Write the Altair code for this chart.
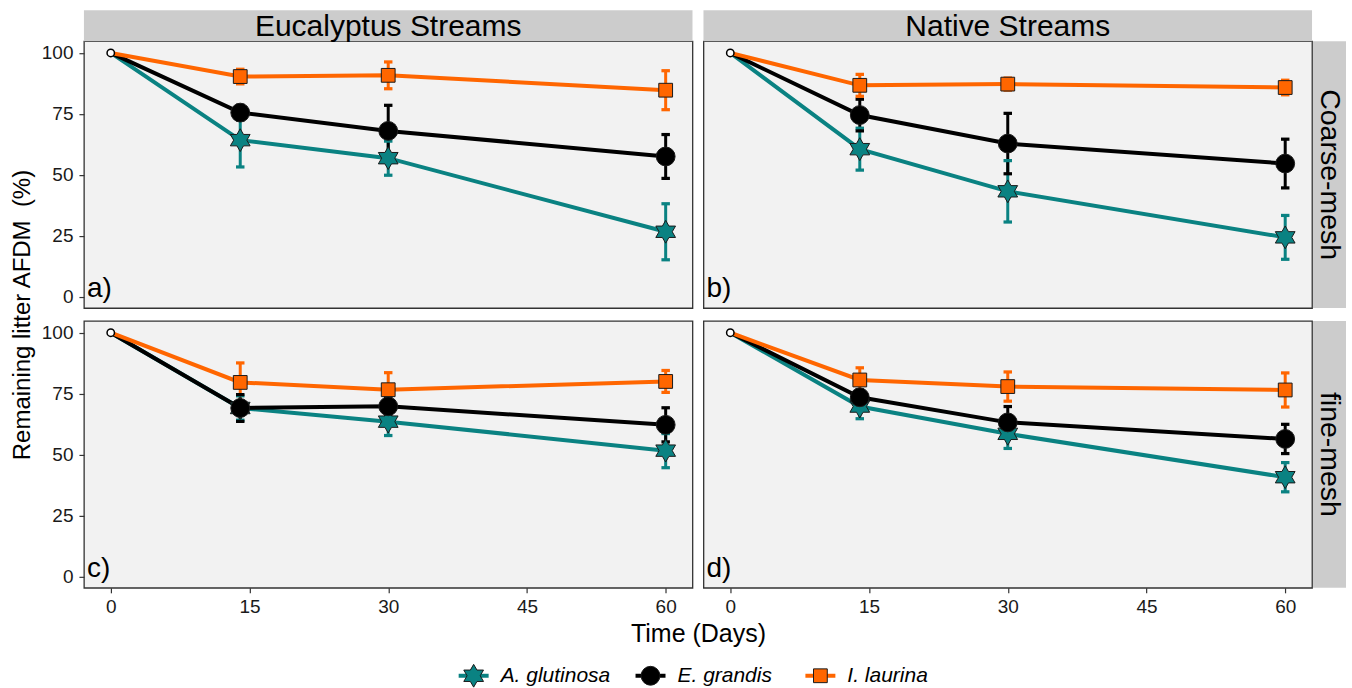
import altair as alt
import pandas as pd

# ---------------- data ----------------
DAYS = [0, 14, 30, 60]
SPECIES = ["A. glutinosa", "E. grandis", "I. laurina"]
COLORS = ["#0A8282", "#000000", "#FF6600"]
STREAMS = ["Eucalyptus Streams", "Native Streams"]
MESHES = ["Coarse-mesh", "fine-mesh"]
LETTERS = ["a)", "b)", "c)", "d)"]
X_TICKS = [0, 15, 30, 45, 60]
Y_TICKS = [0, 25, 50, 75, 100]

# remaining litter AFDM (%) : one list per species (A. glutinosa, E. grandis, I. laurina)
EUC_COARSE_MEAN = [[100, 64.2, 56.8, 26.6], [100, 75.5, 68.0, 57.5], [100, 90.3, 90.8, 84.7]]
EUC_COARSE_ERR = [[0, 11.0, 7.0, 11.5], [0, 3.0, 10.5, 9.0], [0, 3.0, 5.5, 8.0]]
NAT_COARSE_MEAN = [[100, 60.5, 43.2, 24.3], [100, 74.5, 62.8, 54.6], [100, 86.7, 87.2, 85.8]]
NAT_COARSE_ERR = [[0, 8.6, 12.6, 9.0], [0, 6.5, 12.4, 10.0], [0, 4.5, 2.5, 3.0]]
EUC_FINE_MEAN = [[100, 69.1, 63.5, 51.6], [100, 69.1, 69.8, 62.2], [100, 79.6, 76.6, 80.0]]
EUC_FINE_ERR = [[0, 5.0, 5.7, 7.0], [0, 5.5, 4.0, 7.0], [0, 8.0, 7.0, 4.5]]
NAT_FINE_MEAN = [[100, 69.7, 58.5, 40.7], [100, 73.5, 63.2, 56.4], [100, 80.6, 77.9, 76.5]]
NAT_FINE_ERR = [[0, 5.0, 6.0, 6.0], [0, 3.0, 6.5, 6.0], [0, 5.0, 6.0, 7.0]]

PANEL_DATA = [
    (STREAMS[0], MESHES[0], EUC_COARSE_MEAN, EUC_COARSE_ERR),
    (STREAMS[1], MESHES[0], NAT_COARSE_MEAN, NAT_COARSE_ERR),
    (STREAMS[0], MESHES[1], EUC_FINE_MEAN, EUC_FINE_ERR),
    (STREAMS[1], MESHES[1], NAT_FINE_MEAN, NAT_FINE_ERR),
]

# ---------------- layout / style ----------------
W, H = 609, 267
FONT = "Liberation Sans"
STRIP_FILL = "#CCCCCC"
STAR = ("M0,-1L0.2887,-0.5L0.866,-0.5L0.5774,0L0.866,0.5L0.2887,0.5L0,1"
        "L-0.2887,0.5L-0.866,0.5L-0.5774,0L-0.866,-0.5L-0.2887,-0.5Z")
CAP = "M-1,-0.38L1,-0.38L1,0.38L-1,0.38Z"

color_scale = alt.Scale(domain=SPECIES, range=COLORS)
shape_scale = alt.Scale(domain=SPECIES, range=[STAR, "circle", "square"])
size_scale = alt.Scale(domain=SPECIES, range=[520, 190, 190])
x_scale = alt.Scale(domain=[-2.9, 62.9], nice=False, zero=False)
y_scale = alt.Scale(domain=[-4.7, 104.8], nice=False, zero=False)

# legend layout (pixel offsets relative to the lower-left panel)
LEG_SYMBOL_X = [390, 567, 737]
LEG_Y = 355


def build_df(stream, mesh, means, errs):
    rows = []
    for sp, m, e in zip(SPECIES, means, errs):
        for d, mv, ev in zip(DAYS, m, e):
            rows.append(dict(stream=stream, mesh=mesh, species=sp, day=d,
                             mean=mv, lo=mv - ev, hi=mv + ev))
    return pd.DataFrame(rows)


def make_panel(idx):
    stream, mesh, means, errs = PANEL_DATA[idx]
    row, col = divmod(idx, 2)
    df = build_df(stream, mesh, means, errs)
    base = alt.Chart(df)

    if row == 1:
        xaxis = alt.Axis(values=X_TICKS, labelFontSize=19, labelColor="#1a1a1a",
                         tickColor="#333333", tickSize=5, tickWidth=1.2,
                         labelPadding=5, domain=False, grid=False,
                         title="Time (Days)" if col == 0 else None,
                         titleFontSize=25, titleFontWeight="normal",
                         titleColor="black", titleX=W + 5.5, titleY=46,
                         titleBaseline="middle")
    else:
        xaxis = None
    if col == 0:
        yaxis = alt.Axis(values=Y_TICKS, labelFontSize=19, labelColor="#1a1a1a",
                         tickColor="#333333", tickSize=5, tickWidth=1.2,
                         labelPadding=6, domain=False, grid=False,
                         title="Remaining litter AFDM\u00a0 (%)" if row == 0 else None,
                         titleFontSize=24, titleFontWeight="normal",
                         titleColor="black", titleAngle=270, titleX=-61,
                         titleY=H + 6.5, titleBaseline="middle")
    else:
        yaxis = None

    def xe():
        return alt.X("day:Q", scale=x_scale, axis=xaxis)

    def ye(field):
        return alt.Y(field, scale=y_scale, axis=yaxis)

    col_enc = alt.Color("species:N", scale=color_scale, legend=None)

    later = base.transform_filter("datum.day > 0")
    err_rule = later.mark_rule(strokeWidth=3).encode(
        x=xe(), y=ye("lo:Q"), y2="hi:Q", color=col_enc)
    caps = later.transform_fold(["lo", "hi"], as_=["end", "val"]).mark_point(
        shape=CAP, filled=True, size=72, opacity=1).encode(
        x=xe(), y=ye("val:Q"), color=col_enc)
    lines = base.mark_line(strokeWidth=4).encode(
        x=xe(), y=ye("mean:Q"), color=col_enc)
    points = later.mark_point(filled=True, opacity=1, stroke="#1a1a1a",
                              strokeWidth=1).encode(
        x=xe(), y=ye("mean:Q"),
        fill=alt.Fill("species:N", scale=color_scale, legend=None),
        shape=alt.Shape("species:N", scale=shape_scale, legend=None),
        size=alt.Size("species:N", scale=size_scale, legend=None))
    start = base.transform_filter(
        "datum.day == 0 && datum.species == '%s'" % SPECIES[0]).mark_point(
        filled=True, fill="white", stroke="black", strokeWidth=1.5,
        size=55, opacity=1).encode(x=xe(), y=ye("mean:Q"))

    label = alt.Chart(pd.DataFrame({"t": [LETTERS[idx]]})).mark_text(
        font=FONT, fontSize=28, align="left", baseline="alphabetic",
        color="black").encode(x=alt.value(3), y=alt.value(H - 11), text="t:N")

    layers = [err_rule, caps, lines, points, start, label]

    if row == 0:
        strip_df = pd.DataFrame({"t": [stream]})
        layers.append(alt.Chart(strip_df).mark_rect(fill=STRIP_FILL).encode(
            x=alt.value(0), x2=alt.value(W), y=alt.value(-31), y2=alt.value(0)))
        layers.append(alt.Chart(strip_df).mark_text(
            font=FONT, fontSize=30, color="black", align="center",
            baseline="middle").encode(x=alt.value(W / 2), y=alt.value(-14.5),
                                      text="t:N"))
    if col == 1:
        rs_df = pd.DataFrame({"t": [mesh]})
        layers.append(alt.Chart(rs_df).mark_rect(fill=STRIP_FILL).encode(
            x=alt.value(W + 1), x2=alt.value(W + 34), y=alt.value(0),
            y2=alt.value(H)))
        layers.append(alt.Chart(rs_df).mark_text(
            font=FONT, fontSize=28.5, color="black", align="center",
            baseline="middle", angle=90).encode(
            x=alt.value(W + 17.5), y=alt.value(H / 2), text="t:N"))

    if row == 1 and col == 0:
        leg = pd.DataFrame({"species": SPECIES})
        leg["lx"] = LEG_SYMBOL_X
        leg["lx1"] = leg["lx"] - 15
        leg["lx2"] = leg["lx"] + 15
        leg["tx"] = leg["lx"] + 27
        leg["ly"] = LEG_Y
        lb = alt.Chart(leg)
        layers.append(lb.mark_rule(strokeWidth=4).encode(
            x=alt.X("lx1:Q", scale=None, axis=None), x2="lx2:Q",
            y=alt.Y("ly:Q", scale=None, axis=None), color=col_enc))
        layers.append(lb.mark_point(filled=True, opacity=1, stroke="#1a1a1a",
                                    strokeWidth=1).encode(
            x=alt.X("lx:Q", scale=None, axis=None),
            y=alt.Y("ly:Q", scale=None, axis=None),
            fill=alt.Fill("species:N", scale=color_scale, legend=None),
            shape=alt.Shape("species:N", scale=shape_scale, legend=None),
            size=alt.Size("species:N", scale=size_scale, legend=None)))
        layers.append(lb.mark_text(font=FONT, fontSize=21, fontStyle="italic",
                                   align="left", baseline="middle",
                                   color="black").encode(
            x=alt.X("tx:Q", scale=None, axis=None),
            y=alt.Y("ly:Q", scale=None, axis=None), text="species:N"))

    return alt.layer(*layers).properties(width=W, height=H)


panels = [make_panel(i) for i in range(4)]

chart = alt.concat(
    *panels, columns=2, spacing={"row": 13, "column": 11}, bounds="flush"
).properties(
    padding={"left": 10, "top": 9, "right": 5, "bottom": 2},
    background="white",
).configure(font=FONT).configure_view(
    fill="#F2F2F2", stroke="#333333", strokeWidth=1.3
)

chart.save("out.html", embed_options={"renderer": "svg", "actions": False})
